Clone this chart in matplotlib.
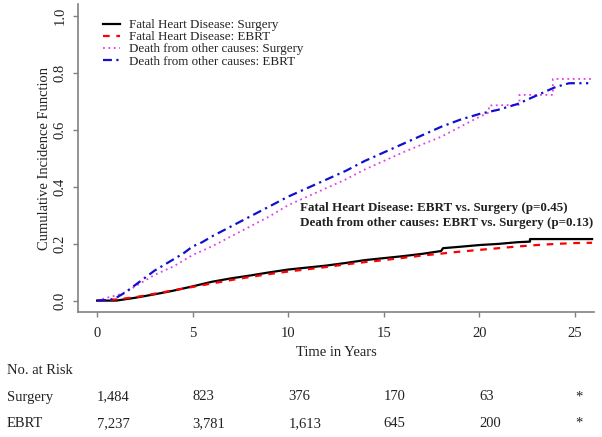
import matplotlib
matplotlib.use("Agg")
import matplotlib.pyplot as plt
from matplotlib.transforms import blended_transform_factory

plt.rcParams['font.family'] = ['Liberation Serif', 'DejaVu Serif']

# ---- data ----
fhd_surg_t = [0, 1, 1.5, 2, 3, 4, 5, 6, 7, 8, 9, 10, 11, 12, 13, 14, 15, 16, 17, 18, 18.1, 19, 20, 21, 22, 22.65, 22.65, 25.9]
fhd_surg_v = [0, 0, 0.005, 0.01, 0.022, 0.035, 0.05, 0.066, 0.078, 0.088, 0.099, 0.109, 0.116, 0.123, 0.132, 0.142, 0.149, 0.156, 0.164, 0.174, 0.184, 0.189, 0.195, 0.199, 0.205, 0.207, 0.216, 0.216]

fhd_ebrt_t = [0, 1, 2, 3, 4, 5, 6, 7, 8, 9, 10, 11, 12, 13, 14, 15, 16, 17, 18, 19, 20, 21, 22, 23, 24, 25, 25.9]
fhd_ebrt_v = [0, 0.004, 0.012, 0.024, 0.036, 0.048, 0.06, 0.072, 0.083, 0.093, 0.102, 0.11, 0.118, 0.127, 0.135, 0.142, 0.15, 0.158, 0.165, 0.172, 0.178, 0.184, 0.19, 0.195, 0.199, 0.202, 0.203]

oth_surg_t = [0, 0.5, 1, 1.5, 2, 2.5, 3, 3.5, 4, 5, 6, 7, 8, 9, 10, 11, 12, 13, 14, 15, 16, 17, 18, 19, 20, 20.5, 20.5, 22.1, 22.1, 23.85, 23.85, 25.9]
oth_surg_v = [0, 0.01, 0.018, 0.03, 0.05, 0.07, 0.09, 0.105, 0.12, 0.16, 0.19, 0.225, 0.26, 0.295, 0.335, 0.365, 0.395, 0.425, 0.46, 0.49, 0.52, 0.548, 0.575, 0.61, 0.645, 0.66, 0.685, 0.687, 0.722, 0.722, 0.778, 0.778]

oth_ebrt_t = [0, 0.7, 1, 1.5, 2, 2.5, 3, 3.5, 4, 4.5, 5, 5.5, 6, 7, 8, 9, 10, 11, 12, 13, 14, 15, 16, 17, 18, 19, 20, 21, 22, 23, 24, 24.7, 25.7]
oth_ebrt_v = [0, 0.003, 0.01, 0.03, 0.055, 0.08, 0.105, 0.125, 0.145, 0.165, 0.19, 0.205, 0.225, 0.26, 0.295, 0.33, 0.365, 0.395, 0.425, 0.455, 0.49, 0.52, 0.55, 0.58, 0.61, 0.635, 0.655, 0.67, 0.69, 0.72, 0.75, 0.763, 0.763]

labels = ["Fatal Heart Disease: Surgery", "Fatal Heart Disease: EBRT",
          "Death from other causes: Surgery", "Death from other causes: EBRT"]

risk_times = [0, 5, 10, 15, 20, 25]
risk_surgery = ["1,484", "823", "376", "170", "63", "*"]
risk_ebrt = ["7,237", "3,781", "1,613", "645", "200", "*"]

annot = ["Fatal Heart Disease: EBRT vs. Surgery (p=0.45)",
         "Death from other causes: EBRT vs. Surgery (p=0.13)"]

# ---- figure ----
W, H = 602, 437
TXT = '#222222'
fig = plt.figure(figsize=(W / 100, H / 100), dpi=100)
ax = fig.add_axes([78 / W, 1 - 312 / H, (594 - 78) / W, (312 - 4.3) / H])

ax.plot(fhd_surg_t, fhd_surg_v, color='black', lw=1.6, ls='-', label=labels[0])
ax.plot(fhd_ebrt_t, fhd_ebrt_v, color='red', lw=1.6, ls=(0, (3, 3)), label=labels[1])
ax.plot(oth_surg_t, oth_surg_v, color='#E040E8', lw=1.3, ls=(0, (1, 2)), label=labels[2])
ax.plot(oth_ebrt_t, oth_ebrt_v, color='#1010D0', lw=1.6, ls=(0, (4, 2, 1, 2)), label=labels[3])

ax.set_xlim(-1, 26)
ax.set_ylim(-0.04, 1.04)
ax.set_xticks([0, 5, 10, 15, 20, 25])
ax.set_yticks([0, 0.2, 0.4, 0.6, 0.8, 1.0])
ax.set_yticklabels(["0.0", "0.2", "0.4", "0.6", "0.8", "1.0"], rotation=90, va='center')

for s in ['top', 'right']:
    ax.spines[s].set_visible(False)
for s in ['left', 'bottom']:
    ax.spines[s].set_color('#808080')
    ax.spines[s].set_linewidth(1.2)
ax.tick_params(axis='both', colors='#808080', labelcolor=TXT, length=3.5, width=1.0, labelsize=10.5)
ax.tick_params(axis='x', pad=7)
ax.tick_params(axis='y', pad=4.5)

ax.set_xlabel("Time in Years", fontsize=10.5, color=TXT, labelpad=4.5)
ax.set_ylabel("Cumulative Incidence Function", fontsize=10.5, color=TXT, labelpad=2)

leg = ax.legend(loc='upper left', bbox_to_anchor=(103 / W, 1 - 19 / H), bbox_transform=fig.transFigure,
                frameon=False, fontsize=9.4, handlelength=1.3, handletextpad=0.7,
                labelspacing=0.0, borderaxespad=0, borderpad=0)
for t in leg.get_texts():
    t.set_color(TXT)

fig.text(300 / W, 1 - 208.3 / H, annot[0], fontsize=9.4, fontweight='bold', va='center', ha='left', color=TXT)
fig.text(300 / W, 1 - 223.3 / H, annot[1], fontsize=9.4, fontweight='bold', va='center', ha='left', color=TXT)

# ---- risk table ----
tr = blended_transform_factory(ax.transData, fig.transFigure)
rows_y = [1 - 374.5 / H, 1 - 400.5 / H, 1 - 427 / H]
fig.text(6.7 / W, rows_y[0], "No. at Risk", fontsize=10.5, va='baseline', ha='left', color=TXT)
fig.text(6.7 / W, rows_y[1], "Surgery", fontsize=10.5, va='baseline', ha='left', color=TXT)
fig.text(6.7 / W, rows_y[2], "EBRT", fontsize=10.5, va='baseline', ha='left', color=TXT)
for t, s, e in zip(risk_times, risk_surgery, risk_ebrt):
    ax.text(t, rows_y[1], s, transform=tr, fontsize=10.5, va='baseline', ha='left', color=TXT, clip_on=False)
    ax.text(t, rows_y[2], e, transform=tr, fontsize=10.5, va='baseline', ha='left', color=TXT, clip_on=False)

fig.savefig("out.png", dpi=100)
